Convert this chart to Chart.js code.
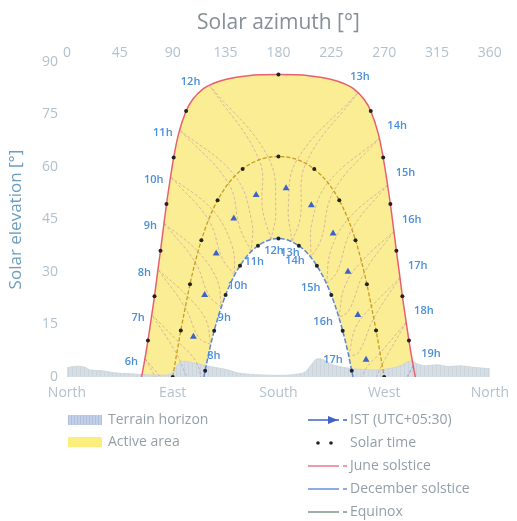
<!DOCTYPE html>
<html><head><meta charset="utf-8">
<script src="https://cdn.jsdelivr.net/npm/chart.js@4.4.1/dist/chart.umd.min.js"></script>
<style>html,body{margin:0;padding:0;background:#fff;}</style>
</head><body>
<canvas id="c" width="517" height="521"></canvas>
<script>
// ---------- data (azimuth °, elevation °) ----------
const compassLabels = ['North','East','South','West','North'];
const juneAz = [63.5,65.8,68.9,71.7,74.5,77.0,79.6,82.1,84.7,87.6,90.8,94.9,101.4,106.8,116.1,123.9,135.6,154.2,180,205.8,224.4,236.1,243.9,253.2,258.6,265.1,269.2,272.4,275.3,277.9,280.4,283.0,285.5,288.3,291.1,294.2,296.5];
const juneEl = [0,4.2,10.4,16.7,23.1,29.6,36.1,42.7,49.4,56.0,62.7,69.4,76.0,79.2,82.4,83.8,85.1,86.1,86.4,86.1,85.1,83.8,82.4,79.2,76.0,69.4,62.7,56.0,49.4,42.7,36.1,29.6,23.1,16.7,10.4,4.2,0];
const equinoxAz = [90,93.4,96.9,100.7,104.7,109.2,114.4,120.6,128.2,137.6,149.5,163.8,180,196.2,210.5,222.4,231.8,239.4,245.6,250.8,255.3,259.3,263.1,266.6,270];
const equinoxEl = [0,6.7,13.3,19.9,26.5,32.9,39.1,45.0,50.5,55.4,59.4,62.1,63.0,62.1,59.4,55.4,50.5,45.0,39.1,32.9,26.5,19.9,13.3,6.7,0];
const decAz = [116.5,117.6,121.2,125.3,129.9,135.0,140.8,147.3,154.6,162.6,171.1,180,188.9,197.4,205.4,212.7,219.2,225.0,230.1,234.7,238.8,242.4,243.5];
const decEl = [0,1.8,7.6,13.2,18.5,23.4,27.9,31.8,35.1,37.5,39.0,39.6,39.0,37.5,35.1,31.8,27.9,23.4,18.5,13.2,7.6,1.8,0];

const solarJuneAz = [68.9,74.5,79.6,84.7,90.8,101.4,180,258.6,269.2,275.3,280.4,285.5,291.1];
const solarJuneEl = [10.4,23.1,36.1,49.4,62.7,76.0,86.4,76.0,62.7,49.4,36.1,23.1,10.4];
const solarEqAz = [90,96.9,104.7,114.4,128.2,149.5,180,210.5,231.8,245.6,255.3,263.1,270];
const solarEqEl = [0,13.3,26.5,39.1,50.5,59.4,63.0,59.4,50.5,39.1,26.5,13.3,0];
const solarDecAz = [117.6,125.3,135.0,147.3,162.6,180,197.4,212.7,225.0,234.7,242.4];
const solarDecEl = [1.8,13.2,23.4,31.8,37.5,39.6,37.5,31.8,23.4,13.2,1.8];

// IST (UTC+05:30) hour lines: sun position at the same clock hour through the year
const istHours = [6,7,8,9,10,11,12,13,14,15,16,17,18,19];
const istJun = [[66.4,5.3],[72.2,17.8],[77.5,30.7],[82.6,43.9],[88.1,57.2],[95.9,70.6],[121.2,83.4],[247.9,81.3],[265.9,68.2],[273.0,54.9],[278.3,41.6],[283.4,28.4],[288.7,15.6],[294.8,3.2]];
const istSep = [[88.2,-3.5],[95.1,9.9],[102.5,23.1],[111.6,35.8],[124.0,47.7],[142.9,57.5],[171.4,62.7],[203.3,61.0],[227.2,53.2],[242.5,42.2],[253.0,29.8],[261.2,16.8],[268.2,3.5],[275.1,-9.9]];
const istNov = [null,[110.2,4.2],[118.1,16.4],[127.9,27.6],[140.7,37.2],[157.4,44.2],[177.7,47.1],[198.4,45.2],[216.0,39.0],[229.6,29.9],[240.0,19.0],[248.2,7.0],[255.1,-5.7],null];
const istDec = [null,[115.2,-2.4],[122.4,9.3],[131.3,20.0],[142.7,29.1],[156.9,35.9],[173.7,39.3],[191.5,38.7],[207.6,34.2],[221.0,26.6],[231.5,17.0],[239.9,5.9],[246.7,-6.1],null];
const istFeb = [null,[105.1,-1.4],[112.3,11.2],[121.0,23.2],[132.2,33.9],[147.2,42.6],[166.5,47.9],[188.4,48.5],[208.6,44.3],[224.6,36.2],[236.5,25.9],[245.8,14.2],[253.2,1.7],null];
const istMar = [[86.5,-6.8],[93.4,6.6],[100.6,19.8],[109.1,32.8],[120.5,44.9],[137.5,55.3],[163.6,62.0],[195.9,62.1],[222.2,55.5],[239.3,45.1],[250.7,33.0],[259.3,20.1],[266.5,6.8],[274.3,-8.4]];
const arrowAz = [107.6,117.2,127,142,161,186.5,208,226.5,239.2,247.6,254.6];
const arrowEl = [11.5,23.4,35.3,45.3,52,53.9,49.1,41,30.1,17.7,4.9];

const terrainAz = [0,5,10,15,20,30,40,50,60,70,80,88,92,96,100,108,115,125,135,145,155,165,175,185,195,203,208,213,218,222,226,232,240,250,260,270,280,286,290,294,298,305,315,325,335,345,355,360];
const terrainEl = [2.6,3.0,3.1,2.8,2.0,1.8,1.2,1.0,0.8,0.6,0.5,0.8,2.5,4.2,4.5,4.0,3.5,2.8,2.2,1.2,0.8,0.6,0.5,0.5,0.8,1.5,3.5,5.2,5.0,4.2,3.5,3.0,2.5,2.2,2.0,2.2,2.8,3.5,4.4,4.5,3.8,3.2,3.5,3.0,3.2,2.8,2.5,2.4];

// ---------- helpers ----------
const pts = (az, el) => az.map((a, i) => ({x: a, y: el[i]}));
const pair = p => ({x: p[0], y: p[1]});

const FONT = '"Open Sans", sans-serif';
Chart.defaults.font.family = FONT;

const C = {
  yellow: '#fbed94', june: '#e8606e', dec: '#5d87d6', eq: '#c99d22',
  ist: 'rgba(165,105,165,0.45)', arrow: '#3e62c8', label: '#4a8fd8',
  tick: '#b2c1cc', legend: '#939fa6'
};

function makePattern() {
  const p = document.createElement('canvas');
  p.width = 4; p.height = 4;
  const g = p.getContext('2d');
  g.fillStyle = '#d6dee4'; g.fillRect(0, 0, 4, 4);
  g.fillStyle = '#cbd5dd'; g.fillRect(0, 0, 1, 4);
  return g.createPattern(p, 'repeat');
}
const terrainPattern = makePattern();

const istDatasets = [];
istHours.forEach((h, i) => {
  const autumn = [istJun[i], istSep[i], istNov[i], istDec[i]].filter(Boolean).map(pair);
  const spring = [istDec[i], istFeb[i], istMar[i], istJun[i]].filter(Boolean).map(pair);
  [autumn, spring].forEach(path => istDatasets.push({
    data: path, showLine: true, borderColor: C.ist, borderWidth: 0.9, borderDash: [3, 2],
    pointRadius: 0, tension: 0.4, fill: false, order: 5
  }));
});

const datasets = [
  {data: pts(arrowAz, arrowEl), showLine: false, pointStyle: 'triangle', pointRadius: 4,
   backgroundColor: C.arrow, borderColor: C.arrow, borderWidth: 0, order: 0},
  {data: pts(solarJuneAz, solarJuneEl).concat(pts(solarEqAz, solarEqEl), pts(solarDecAz, solarDecEl)),
   showLine: false, pointRadius: 2, backgroundColor: '#222', borderWidth: 0, order: 1},
  {data: pts(juneAz, juneEl), showLine: true, borderColor: C.june, borderWidth: 1.5, pointRadius: 0,
   cubicInterpolationMode: 'monotone', fill: false, order: 2},
  {data: pts(decAz, decEl), showLine: true, borderColor: C.dec, borderWidth: 1.5, borderDash: [5, 2], pointRadius: 0,
   cubicInterpolationMode: 'monotone', fill: false, order: 3},
  {data: pts(equinoxAz, equinoxEl), showLine: true, borderColor: C.eq, borderWidth: 1.3, borderDash: [4, 2], pointRadius: 0,
   cubicInterpolationMode: 'monotone', fill: false, order: 4},
  ...istDatasets,
  {data: pts(terrainAz, terrainEl), showLine: true, borderColor: '#c9d3da', borderWidth: 0.8, pointRadius: 0,
   backgroundColor: terrainPattern, cubicInterpolationMode: 'monotone', fill: 'origin', order: 6},
  {data: pts(decAz, decEl), showLine: true, borderWidth: 0, borderColor: 'rgba(0,0,0,0)', pointRadius: 0,
   backgroundColor: '#ffffff', cubicInterpolationMode: 'monotone', fill: 'origin', order: 7},
  {data: pts(juneAz, juneEl), showLine: true, borderWidth: 0, borderColor: 'rgba(0,0,0,0)', pointRadius: 0,
   backgroundColor: C.yellow, cubicInterpolationMode: 'monotone', fill: 'origin', order: 8}
];

// hour labels at the ends of the IST lines
const hourLabels = {
  id: 'hourLabels',
  afterDatasetsDraw(chart) {
    const {ctx, scales: {x, y}} = chart;
    ctx.save();
    ctx.font = '600 11px ' + FONT;
    ctx.fillStyle = C.label;
    ctx.textBaseline = 'middle';
    istHours.forEach((h, i) => {
      const t = h + 'h';
      const j = istJun[i];
      const px = x.getPixelForValue(j[0]), py = y.getPixelForValue(j[1]);
      if (h <= 12) { ctx.textAlign = 'right'; ctx.fillText(t, px - (h === 12 ? 9 : 7), py + (h === 12 ? -3 : 3)); }
      else { ctx.textAlign = 'left'; ctx.fillText(t, px + (h === 13 ? -8 : 8), py - (h === 13 ? 16 : 12)); }
      const d = istDec[i];
      if (d && d[1] > 0) {
        const qx = x.getPixelForValue(d[0]), qy = y.getPixelForValue(d[1]);
        if (h <= 13) { ctx.textAlign = 'center'; ctx.fillText(t, qx + (h === 13 ? -2 : 3), qy + 11); }
        else { ctx.textAlign = 'right'; ctx.fillText(t, qx - 6, qy + 4); }
      }
    });
    ctx.restore();
  }
};

// custom two-column legend
const legendPlugin = {
  id: 'customLegend',
  afterDraw(chart) {
    const ctx = chart.ctx;
    ctx.save();
    ctx.font = '14px ' + FONT;
    ctx.textBaseline = 'middle';
    ctx.textAlign = 'left';
    // left column
    ctx.fillStyle = '#c3cfe6'; ctx.fillRect(68, 415, 34, 10);
    ctx.fillStyle = '#aebfe0';
    for (let i = 68; i < 102; i += 3) ctx.fillRect(i, 415, 1, 10);
    ctx.fillStyle = C.legend; ctx.fillText('Terrain horizon', 108, 420);
    ctx.fillStyle = '#fbee7c'; ctx.fillRect(68, 437, 34, 10);
    ctx.fillStyle = C.legend; ctx.fillText('Active area', 108, 442);
    // right column
    const lx = 308, tx = 350;
    const line = (yy, col) => {
      ctx.strokeStyle = col; ctx.lineWidth = 1.5;
      ctx.beginPath(); ctx.moveTo(lx, yy); ctx.lineTo(lx + 31, yy); ctx.stroke();
      ctx.beginPath(); ctx.moveTo(lx + 35, yy); ctx.lineTo(lx + 39, yy); ctx.stroke();
    };
    line(420, C.arrow);
    ctx.fillStyle = C.arrow;
    ctx.beginPath(); ctx.moveTo(lx + 30, 420); ctx.lineTo(lx + 20, 416); ctx.lineTo(lx + 20, 424); ctx.closePath(); ctx.fill();
    ctx.fillStyle = C.legend; ctx.fillText('IST (UTC+05:30)', tx, 420);
    ctx.fillStyle = '#222';
    ctx.beginPath(); ctx.arc(lx + 10, 443, 1.8, 0, Math.PI * 2); ctx.fill();
    ctx.beginPath(); ctx.arc(lx + 23, 443, 1.8, 0, Math.PI * 2); ctx.fill();
    ctx.fillStyle = C.legend; ctx.fillText('Solar time', tx, 443);
    line(466, '#e8788c'); ctx.fillStyle = C.legend; ctx.fillText('June solstice', tx, 466);
    line(489, '#6a8fdc'); ctx.fillStyle = C.legend; ctx.fillText('December solstice', tx, 489);
    line(512, '#7a9484'); ctx.fillStyle = C.legend; ctx.fillText('Equinox', tx, 512);
    ctx.restore();
  }
};

new Chart(document.getElementById('c'), {
  type: 'line',
  data: {datasets},
  options: {
    responsive: false, animation: false, devicePixelRatio: 1, events: [],
    layout: {padding: {left: 0, right: 24, top: 0, bottom: 0}},
    plugins: {legend: {display: false}, tooltip: {enabled: false}},
    scales: {
      x: {
        type: 'linear', position: 'bottom', min: 0, max: 360,
        grid: {display: false, drawTicks: false}, border: {display: false},
        ticks: {stepSize: 90, autoSkip: false, maxRotation: 0, padding: 8, color: C.tick,
                font: {size: 14}, callback: v => compassLabels[Math.round(v / 90)]},
        afterFit: s => { s.height = 144; }
      },
      x2: {
        type: 'linear', position: 'top', min: 0, max: 360,
        grid: {display: false, drawTicks: false}, border: {display: false},
        ticks: {stepSize: 45, autoSkip: false, maxRotation: 0, padding: 1, color: C.tick, font: {size: 14}},
        title: {display: true, text: 'Solar azimuth [°]', color: '#848f96', font: {size: 21}, padding: {top: 10, bottom: 0}},
        afterFit: s => { s.height = 62; }
      },
      y: {
        min: 0, max: 90,
        grid: {display: false, drawTicks: false}, border: {display: false},
        ticks: {stepSize: 15, padding: 9, color: C.tick, font: {size: 14}},
        title: {display: true, text: 'Solar elevation [°]', color: '#6d9dc0', font: {size: 17}, padding: {top: 6, bottom: 0}},
        afterFit: s => { s.width = 67; }
      }
    }
  },
  plugins: [hourLabels, legendPlugin]
});
</script>
</body></html>
